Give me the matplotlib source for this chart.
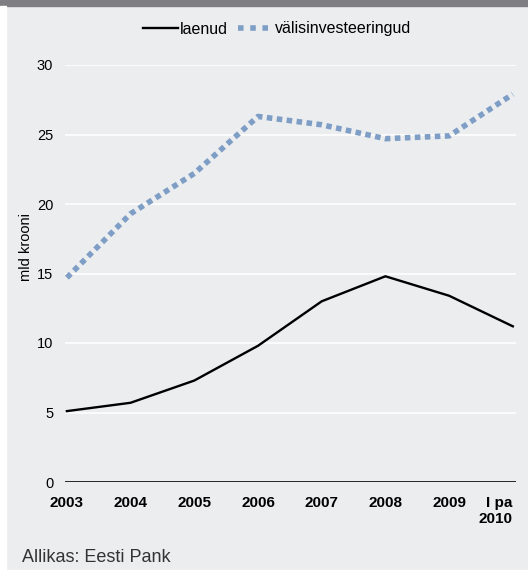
import numpy as np
import matplotlib.pyplot as plt
import matplotlib.patches as mpatches
import matplotlib.transforms as mtransforms

plt.rcParams['font.family'] = ['Liberation Sans', 'DejaVu Sans']

# andmed
labels = ["2003", "2004", "2005", "2006", "2007", "2008", "2009", "I pa\n2010"]
laenud = [5.1, 5.7, 7.3, 9.8, 13.0, 14.8, 13.4, 11.2]
valis = [14.7, 19.3, 22.2, 26.3, 25.7, 24.7, 24.9, 27.9]
yticks = [0, 5, 10, 15, 20, 25, 30]

bg = "#ecedef"
blue = "#7f9ec6"
W, H = 528, 573

fig = plt.figure(figsize=(W/100, H/100), dpi=100)
fig.patch.set_facecolor(bg)
# hall riba ülal, valged ääred vasakul ja all
fig.patches.append(mpatches.Rectangle((0, 1 - 6/H), 1, 6/H, transform=fig.transFigure,
                                      color="#7f7e82", zorder=0))
fig.patches.append(mpatches.Rectangle((0, 0), 6/W, 1 - 6/H, transform=fig.transFigure,
                                      color="white", zorder=0))
fig.patches.append(mpatches.Rectangle((0, 0), 1, 3/H, transform=fig.transFigure,
                                      color="white", zorder=0))

ax = fig.add_axes([65/W, 1 - 482/H, 451/W, 417/H])
ax.set_facecolor(bg)
x = np.arange(len(labels))

ax.plot(x, laenud, color="black", lw=1.7, label="laenud", zorder=3)
ax.plot(x, valis, color=blue, lw=4, linestyle=(0, (1, 0.8)), label="välisinvesteeringud", zorder=3)

ax.set_ylim(0, 30)
ax.set_xlim(-0.03, 7.05)
ax.set_yticks(yticks)
ax.set_xticks(x)
ax.set_xticklabels(labels, fontweight="bold", fontsize=11)
last = ax.get_xticklabels()[-1]
last.set_horizontalalignment("right")
last.set_multialignment("right")
last.set_transform(last.get_transform() + mtransforms.ScaledTranslation(4/100, 0, fig.dpi_scale_trans))
ax.tick_params(axis="both", length=0)
ax.tick_params(axis="y", labelsize=10.5, pad=8.5)
ax.tick_params(axis="x", pad=10)
ax.grid(axis="y", color="white", lw=1.2, zorder=1)
ax.axhline(0, color="black", lw=1.2, zorder=2)
for s in ax.spines.values():
    s.set_visible(False)
ax.set_ylabel("mld krooni", fontsize=10.5)
ax.yaxis.set_label_coords(-0.071, 0.564)

leg = fig.legend(loc="center", bbox_to_anchor=(277/W, 1 - 29/H), ncol=2, frameon=False,
                 fontsize=11.5, handlelength=2.2, handletextpad=0.15, columnspacing=0.6)
# legendi punktiirjoon hõredamaks
leg.get_lines()[1].set_linestyle((0, (1, 1.2)))

fig.text(22/W, 1 - 558/H, "Allikas: Eesti Pank", fontsize=13, color="#333333", va="center")

fig.savefig("out.png", dpi=100, facecolor=bg)
